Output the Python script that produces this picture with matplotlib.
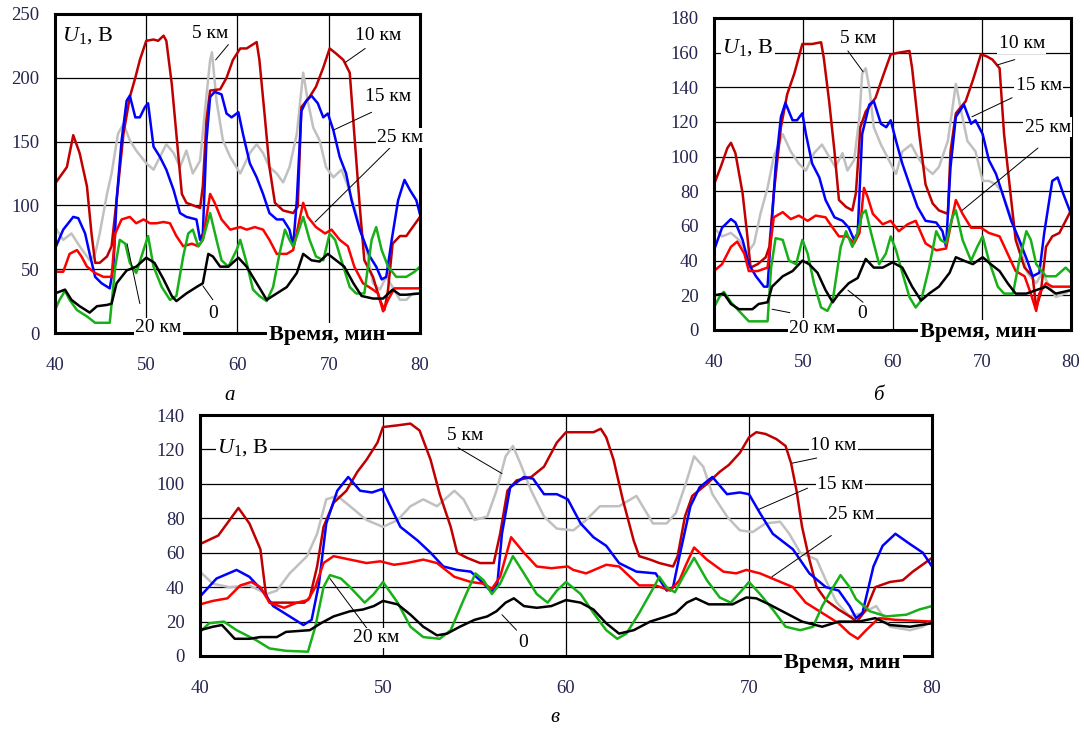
import matplotlib
matplotlib.use('Agg')
import matplotlib.pyplot as plt

plt.rcParams['font.family'] = ['Liberation Serif', 'DejaVu Serif']
plt.rcParams['mathtext.fontset'] = 'custom'
plt.rcParams['mathtext.rm'] = 'Liberation Serif'
plt.rcParams['mathtext.it'] = 'Liberation Serif:italic'

# =========================================================================
# values: (time, min ; U1, V)

# ---- panel a
a_5km = [(40, 83), (40.9, 73), (41.8, 78), (42.7, 68), (43.8, 57), (44.4, 62), (44.9, 78), (45.7, 109),
         (46.2, 125), (46.9, 156), (47.5, 164), (48.2, 151), (48.9, 143), (50.0, 133), (50.8, 128),
         (51.5, 138), (52.2, 148), (53.0, 141), (53.7, 130), (54.4, 143), (55.1, 125), (55.9, 135),
         (56.4, 172), (57.0, 214), (57.2, 220), (57.7, 182), (58.4, 151), (59.2, 138), (60.3, 125),
         (61.35, 141), (62.1, 148), (62.8, 141), (63.5, 130), (64.3, 125), (65.0, 118), (65.7, 130),
         (66.5, 156), (67.2, 204), (67.7, 182), (68.3, 161), (69.0, 151), (69.7, 130), (70.5, 122),
         (71.4, 128), (72.1, 115), (72.8, 99), (73.6, 78), (74.3, 60), (74.85, 39), (75.6, 34),
         (76.3, 44), (77.0, 36), (77.8, 26), (78.5, 26), (79.2, 31), (80, 31)]
a_10km = [(40, 117), (41.3, 130), (42.0, 155), (42.7, 141), (43.5, 115), (44.0, 78), (44.4, 55), (44.9, 55),
          (45.7, 60), (46.2, 68), (46.75, 104), (47.5, 156), (48.2, 185), (48.8, 200), (49.3, 214),
          (50.0, 229), (50.8, 230), (51.3, 229), (51.9, 233), (52.2, 229), (52.8, 195), (53.3, 156),
          (53.9, 109), (54.4, 102), (55.9, 98), (56.2, 115), (56.6, 167), (57.0, 190), (58.1, 191),
          (58.8, 200), (59.5, 214), (60.3, 223), (61.0, 223), (62.1, 228), (62.4, 214), (63.0, 169),
          (63.5, 130), (64.1, 102), (65.0, 96), (66.1, 94), (66.6, 99), (67.0, 177), (67.9, 185),
          (68.6, 193), (69.4, 208), (70.1, 223), (70.8, 219), (71.6, 214), (72.3, 204), (72.8, 156),
          (73.4, 99), (73.9, 57), (74.85, 44), (75.6, 26), (76.1, 18), (76.5, 34), (77.0, 70),
          (77.8, 76), (78.5, 76), (79.2, 83), (80, 91)]
a_15km = [(40, 66), (40.9, 81), (42.0, 91), (42.55, 90), (43.3, 78), (43.8, 62), (44.4, 44), (45.1, 39),
          (46.0, 35), (46.4, 52), (46.75, 104), (47.3, 151), (47.85, 182), (48.2, 186), (48.8, 169),
          (49.3, 169), (49.85, 177), (50.2, 180), (50.8, 146), (51.5, 138), (52.2, 128), (53.0, 112),
          (53.7, 94), (54.4, 91), (55.5, 89), (55.9, 73), (56.2, 78), (56.6, 151), (57.0, 185),
          (57.5, 189), (58.25, 187), (58.8, 172), (59.35, 169), (60.1, 173), (60.6, 156), (61.35, 133),
          (62.1, 122), (62.8, 109), (63.5, 94), (64.3, 89), (65.0, 89), (65.7, 81), (66.1, 68),
          (66.5, 104), (67.0, 174), (67.55, 182), (68.1, 186), (68.8, 180), (69.4, 169), (69.9, 172),
          (70.5, 159), (71.2, 138), (71.9, 125), (72.5, 104), (73.4, 81), (74.5, 60), (75.2, 52),
          (75.8, 42), (76.3, 44), (76.9, 73), (77.6, 104), (78.3, 120), (78.9, 112), (79.6, 104), (80, 93)]
a_25km = [(40, 48), (40.9, 48), (41.6, 62), (42.4, 65), (42.9, 60), (43.5, 52), (44.4, 47), (45.3, 44),
          (46.2, 44), (46.6, 78), (47.3, 89), (48.2, 91), (48.9, 86), (49.7, 89), (50.4, 86), (51.1, 86),
          (51.9, 87), (52.6, 86), (53.3, 76), (54.05, 68), (55.0, 70), (55.7, 68), (56.2, 73), (57.0, 109),
          (57.5, 102), (58.25, 89), (59.2, 81), (60.3, 83), (61.0, 81), (61.9, 83), (62.8, 81), (63.5, 73),
          (64.3, 62), (65.4, 62), (66.1, 65), (66.8, 89), (67.2, 102), (67.7, 91), (68.6, 83), (69.6, 78),
          (70.3, 81), (71.2, 73), (72.1, 68), (72.8, 52), (73.75, 39), (74.85, 34), (75.4, 31),
          (75.95, 17), (76.5, 26), (77.2, 35), (78.5, 35), (80, 35)]
a_20km = [(40, 18), (40.5, 26), (41.1, 33), (41.6, 26), (42.4, 18), (43.5, 13), (44.4, 8), (46.0, 8),
          (46.6, 52), (47.1, 73), (47.7, 70), (48.2, 55), (48.9, 47), (49.7, 65), (50.2, 76), (50.8, 52),
          (51.7, 36), (52.6, 26), (53.3, 29), (54.05, 60), (54.6, 78), (55.1, 81), (55.7, 68), (56.2, 73),
          (57.0, 94), (57.7, 73), (58.25, 57), (59.0, 52), (59.9, 65), (60.3, 73), (61.0, 55), (61.7, 34),
          (62.4, 29), (63.2, 25), (63.9, 36), (64.6, 62), (65.2, 81), (65.7, 73), (66.1, 68), (66.6, 78),
          (67.2, 91), (67.9, 73), (68.6, 60), (69.4, 57), (70.1, 78), (70.7, 73), (71.6, 52), (72.3, 36),
          (73.0, 31), (73.9, 31), (74.7, 73), (75.2, 83), (75.8, 65), (76.5, 52), (77.4, 44), (78.5, 44),
          (79.4, 48), (80, 52)]
a_0km = [(40, 31), (41.1, 34), (41.8, 26), (42.7, 21), (43.8, 16), (44.6, 21), (45.7, 22), (46.2, 23),
         (46.75, 39), (47.85, 49), (48.9, 52), (50.0, 59), (50.9, 55), (51.9, 42), (52.8, 29), (53.3, 25),
         (54.4, 31), (55.5, 36), (56.2, 39), (56.8, 62), (57.3, 60), (58.1, 52), (59.0, 52), (60.1, 59),
         (61.0, 52), (62.1, 39), (63.2, 26), (64.3, 31), (65.4, 36), (66.5, 47), (67.2, 62), (68.1, 57),
         (69.0, 56), (69.9, 62), (70.8, 57), (71.7, 52), (72.7, 39), (73.6, 29), (74.85, 27), (75.95, 27),
         (77.0, 34), (77.8, 30), (78.5, 30), (80, 31)]

# ---- panel б
b_5km = [(40, 59), (40.9, 54), (41.9, 56), (42.8, 52), (43.7, 44), (44.5, 50), (45.2, 67), (46.0, 82),
         (46.7, 100), (47.7, 113), (48.6, 103), (49.5, 96), (50.3, 92), (51.2, 102), (52.1, 107),
         (52.9, 100), (53.6, 94), (54.4, 102), (54.95, 92), (55.7, 98), (56.3, 123), (56.6, 148),
         (57.0, 151), (57.4, 140), (57.9, 117), (58.7, 107), (59.6, 98), (60.4, 90), (61.1, 103),
         (62.1, 107), (62.8, 100), (63.6, 94), (64.5, 90), (65.2, 94), (66.2, 109), (67.1, 142),
         (67.7, 126), (68.4, 109), (69.3, 103), (70.1, 86), (70.8, 86), (71.6, 84), (72.3, 79),
         (73.3, 65), (74.2, 50), (75.1, 33), (76.1, 27), (76.8, 33), (77.6, 25), (78.3, 19),
         (79.25, 21), (80, 23)]
b_10km = [(40, 84), (40.75, 94), (41.5, 105), (41.9, 108), (42.4, 102), (43.2, 79), (43.7, 56), (44.1, 36),
          (44.9, 38), (45.8, 42), (46.2, 48), (46.7, 79), (47.5, 117), (48.2, 136), (49.0, 148),
          (49.9, 165), (51.0, 165), (52.0, 166), (52.3, 157), (52.9, 132), (53.5, 103), (54.0, 75),
          (54.8, 71), (55.5, 69), (55.9, 79), (56.4, 117), (57.0, 126), (58.1, 134), (58.9, 146),
          (59.8, 159), (60.7, 160), (61.9, 161), (62.2, 151), (63.0, 113), (63.7, 84), (64.5, 73),
          (65.2, 69), (66.2, 67), (66.5, 103), (67.1, 125), (68.2, 132), (69.0, 144), (69.9, 159),
          (70.5, 158), (71.2, 156), (72.0, 151), (72.5, 113), (73.3, 75), (73.8, 52), (74.8, 36),
          (75.7, 31), (76.1, 13), (76.6, 21), (77.2, 48), (77.9, 54), (78.7, 56), (79.4, 63), (80, 69)]
b_15km = [(40, 46), (40.9, 59), (41.9, 64), (42.4, 62), (43.2, 52), (43.9, 38), (44.7, 31), (45.6, 25),
          (46.0, 25), (46.4, 56), (46.9, 94), (47.5, 123), (48.0, 131), (48.8, 121), (49.3, 121),
          (49.9, 125), (50.3, 113), (51.0, 96), (51.8, 88), (52.5, 75), (53.5, 65), (54.4, 63),
          (55.1, 59), (55.7, 52), (56.1, 56), (56.6, 113), (57.4, 130), (57.9, 132), (58.7, 119),
          (59.3, 117), (59.8, 121), (60.4, 109), (61.1, 96), (61.9, 84), (62.8, 71), (63.7, 63),
          (64.9, 62), (65.6, 57), (66.0, 48), (66.5, 94), (67.1, 123), (68.0, 130), (68.8, 119),
          (69.3, 121), (70.1, 113), (70.8, 98), (71.6, 90), (72.3, 79), (73.3, 63), (74.2, 52),
          (75.1, 40), (75.7, 31), (76.45, 33), (77.0, 56), (77.9, 86), (78.5, 88), (79.1, 79), (80, 67)]
b_25km = [(40, 34), (40.9, 38), (41.9, 48), (42.6, 51), (43.4, 44), (43.9, 34), (44.9, 34), (46.0, 36),
          (46.7, 65), (47.7, 68), (48.6, 64), (49.5, 66), (50.5, 63), (51.4, 66), (52.5, 65), (53.3, 59),
          (54.0, 54), (54.95, 54), (55.7, 50), (56.3, 56), (56.8, 82), (57.2, 77), (57.8, 67), (58.9, 61),
          (59.8, 63), (60.7, 57), (61.7, 61), (62.6, 63), (63.7, 50), (64.9, 46), (66.0, 47), (66.7, 65),
          (67.1, 75), (67.85, 67), (68.8, 59), (69.9, 59), (70.8, 56), (72.0, 54), (72.9, 44), (73.8, 34),
          (74.8, 31), (75.5, 21), (76.1, 11), (76.45, 21), (77.2, 27), (77.9, 25), (80, 25)]
b_20km = [(40, 13), (40.6, 19), (41.1, 22), (41.9, 16), (42.8, 11), (43.9, 5), (46.0, 5), (46.4, 36),
          (46.9, 53), (47.7, 52), (48.4, 40), (49.2, 38), (49.9, 52), (50.5, 44), (51.2, 27), (52.0, 13),
          (52.7, 11), (53.3, 17), (54.2, 48), (54.8, 57), (55.5, 48), (56.1, 56), (56.6, 67), (57.0, 69),
          (57.6, 56), (58.5, 38), (59.25, 44), (59.8, 54), (60.4, 46), (61.1, 33), (61.9, 19), (62.6, 13),
          (63.2, 17), (64.1, 36), (64.9, 57), (65.4, 52), (66.0, 50), (66.7, 65), (67.1, 69), (67.85, 52),
          (68.8, 40), (69.5, 48), (70.1, 54), (70.8, 40), (71.8, 25), (72.5, 21), (73.5, 21), (74.2, 40),
          (75.0, 57), (75.5, 52), (76.1, 38), (77.2, 31), (78.3, 31), (79.4, 36), (80, 33)]
b_0km = [(40, 20), (41.1, 21), (41.9, 15), (42.8, 12), (44.3, 12), (45.0, 15), (46.0, 16), (46.5, 25),
         (47.7, 31), (48.8, 34), (49.9, 40), (50.65, 38), (51.6, 33), (52.5, 23), (53.3, 16), (54.0, 21),
         (55.1, 27), (56.1, 30), (57.0, 41), (57.9, 36), (58.9, 36), (60.0, 39), (61.1, 36), (62.2, 25),
         (63.2, 17), (64.1, 21), (65.2, 25), (66.4, 33), (67.1, 42), (68.0, 40), (69.0, 38), (70.1, 42),
         (71.0, 38), (72.0, 34), (72.9, 27), (73.8, 21), (75.0, 21), (76.1, 23), (77.2, 25), (78.3, 21),
         (80, 23)]

# ---- panel в
c_5km = [(40, 49), (40.7, 42), (41.6, 40), (42.7, 41), (43.65, 36), (44.2, 38), (44.9, 48), (45.85, 58),
         (46.4, 71), (46.9, 91), (47.5, 93), (48.2, 87), (49.1, 79), (50.0, 75), (50.8, 79), (51.5, 87),
         (52.2, 91), (52.95, 87), (53.9, 96), (54.4, 91), (55.0, 79), (55.7, 81), (56.2, 96), (56.7, 116),
         (57.1, 122), (57.5, 112), (58.1, 96), (58.8, 81), (59.5, 74), (60.4, 73), (61.1, 79),
         (61.85, 87), (62.9, 87), (63.85, 93), (64.75, 77), (65.5, 77), (66.0, 83), (66.6, 102),
         (67.0, 116), (67.5, 110), (68.0, 94), (68.8, 81), (69.5, 73), (70.2, 72), (70.9, 77),
         (71.7, 78), (72.2, 71), (72.8, 60), (73.7, 56), (74.2, 44), (74.8, 31), (75.5, 23), (76.2, 25),
         (76.95, 29), (77.7, 17), (78.8, 15), (79.5, 17), (80, 21)]
c_10km = [(40, 65), (41, 70), (42.1, 86), (42.7, 77), (43.3, 62), (43.6, 36), (43.8, 31), (45.7, 31),
          (46.0, 34), (46.4, 52), (46.75, 75), (47.3, 89), (48.0, 96), (48.6, 107), (49.1, 114),
          (49.7, 124), (50.0, 133), (50.8, 134), (51.5, 135), (52.0, 131), (52.6, 114), (53.1, 94),
          (53.7, 75), (54.05, 60), (54.6, 57), (55.3, 54), (56.05, 54), (56.4, 71), (56.8, 96), (57.3, 102),
          (58.1, 104), (58.8, 110), (59.5, 124), (60.0, 130), (60.8, 130), (61.5, 130), (61.9, 132),
          (62.2, 127), (62.6, 114), (63.1, 91), (63.7, 67), (64.0, 58), (64.6, 56), (65.1, 54),
          (65.85, 52), (66.1, 58), (66.5, 81), (66.9, 93), (67.7, 100), (68.4, 107), (68.9, 111),
          (69.5, 118), (70.0, 127), (70.4, 130), (70.9, 129), (71.5, 126), (72.0, 122), (72.3, 112),
          (72.6, 96), (72.9, 75), (73.3, 56), (73.7, 40), (74.2, 32.5), (74.9, 27), (75.5, 23), (75.9, 20),
          (76.4, 27), (76.9, 40), (77.7, 43), (78.4, 44), (78.95, 49), (80, 57)]
c_15km = [(40, 34.5), (40.9, 45), (42.0, 50), (42.7, 46), (43.4, 38), (44.0, 29), (44.9, 23), (45.65, 18),
          (46.1, 21), (46.5, 42), (46.9, 77), (47.5, 96), (48.1, 104), (48.75, 96), (49.4, 95),
          (49.95, 97), (50.4, 87), (50.95, 75), (51.9, 67), (52.6, 60), (53.3, 52), (54.05, 50),
          (54.8, 49), (55.5, 42), (55.95, 37), (56.25, 42), (56.5, 71), (56.95, 98), (57.7, 104),
          (58.2, 103), (58.8, 94), (59.5, 94), (60.1, 91), (60.4, 85), (60.8, 77), (61.5, 69), (62.2, 64),
          (62.9, 54), (63.85, 49), (64.9, 48), (65.5, 38), (65.85, 40), (66.2, 58), (66.8, 87),
          (67.3, 98), (68.0, 104), (68.8, 94), (69.5, 95), (70.0, 94), (70.6, 83), (71.3, 71), (72.4, 62),
          (73.3, 48), (74.2, 40), (74.9, 38), (75.5, 29), (75.85, 22), (76.2, 25), (76.8, 52), (77.3, 64),
          (78.0, 71), (78.8, 65), (79.5, 60), (80, 52)]
c_25km = [(40, 30), (40.7, 32), (41.5, 33.5), (42.2, 41), (42.8, 43), (43.3, 40), (43.8, 31), (44.6, 28),
          (45.3, 31), (45.9, 32.5), (46.3, 40), (46.75, 54), (47.3, 58), (48.2, 56), (49.1, 54),
          (49.85, 55), (50.6, 53), (51.3, 54), (52.2, 56), (52.95, 54), (53.9, 46), (54.8, 43), (55.5, 42),
          (55.95, 39), (56.4, 46), (57.0, 69), (57.7, 60), (58.4, 52), (59.2, 51), (60.1, 52), (60.4, 50),
          (61.1, 48), (62.2, 53), (62.9, 52), (64.0, 41), (64.9, 41), (65.7, 38), (66.2, 44), (66.6, 54),
          (67.0, 63), (67.7, 56), (68.6, 49), (69.3, 48), (69.85, 50), (70.6, 48), (71.5, 44), (72.4, 40),
          (73.1, 31), (74.0, 25), (74.9, 19), (75.5, 13), (75.95, 10), (76.4, 15), (77.1, 22), (78.0, 21),
          (80, 20)]
c_20km = [(40, 14), (40.5, 19), (41.3, 20), (42.0, 15), (43.1, 9), (43.8, 4.4), (44.7, 3), (45.9, 2.5),
          (46.3, 17), (46.75, 40), (47.1, 47), (47.7, 45), (48.2, 40), (49.0, 31), (49.5, 36), (50.0, 43),
          (50.8, 31), (51.5, 17), (52.2, 11), (53.1, 10), (53.7, 15), (54.4, 32.5), (55.05, 48), (55.5, 44),
          (55.95, 36), (56.4, 42), (57.1, 58), (57.7, 48), (58.4, 36), (59.0, 31), (59.5, 38), (60.0, 43),
          (60.8, 36), (61.5, 25), (62.2, 15), (62.8, 10), (63.3, 13), (64.0, 25), (64.8, 40), (65.1, 46),
          (65.5, 40), (65.95, 37), (66.4, 46), (67.0, 57), (67.7, 44), (68.4, 34), (69.0, 31), (69.6, 38),
          (70.0, 43), (70.6, 36), (71.3, 27), (72.0, 17), (72.8, 15), (73.5, 17), (74.0, 29), (74.6, 40),
          (75.0, 47), (75.5, 40), (75.85, 33), (76.6, 26), (77.5, 23), (78.6, 24), (79.3, 27), (80, 29)]
c_0km = [(40, 15), (40.7, 17), (41.2, 18), (41.9, 10), (42.7, 10), (43.3, 11), (44.2, 11), (44.7, 14),
         (46.0, 15), (46.6, 19), (47.3, 23), (48.2, 26), (48.9, 27), (49.5, 29), (50.0, 32), (50.8, 30),
         (51.5, 24), (52.2, 17), (52.95, 12), (53.5, 13), (54.2, 17), (55.0, 21), (55.7, 23), (56.2, 26),
         (56.7, 31), (57.15, 33.5), (57.7, 29), (58.4, 28), (59.2, 29), (60.0, 32.5), (60.8, 31),
         (61.5, 27), (62.2, 19), (62.9, 13), (63.7, 15), (64.6, 20), (65.5, 23), (66.0, 25), (66.6, 31),
         (67.1, 33.5), (67.8, 30), (69.1, 30), (69.85, 34), (70.4, 33.5), (71.1, 30), (72.0, 25),
         (72.9, 20), (74.0, 17), (74.9, 20), (76.0, 20), (76.9, 22), (77.7, 18), (78.8, 17), (80, 19)]

series_names = ['5 км', '10 км', '15 км', '25 км', '20 км', '0']
series_colors = ['#c0c0c0', '#c00000', '#0000ff', '#ff0000', '#18b018', '#000000']

panel_a = [a_5km, a_10km, a_15km, a_25km, a_20km, a_0km]
panel_b = [b_5km, b_10km, b_15km, b_25km, b_20km, b_0km]
panel_c = [c_5km, c_10km, c_15km, c_25km, c_20km, c_0km]

# label placement per panel: name -> (text pos, leader start, leader end) in data units
labels_a = {'5 км': ((57.0, 235), (59.0, 226), (57.6, 214)),
            '10 км': ((75.4, 233), (74.0, 223), (71.8, 212)),
            '15 км': ((76.5, 185), (74.7, 173), (70.5, 159)),
            '25 км': ((77.8, 153), (76.7, 145), (68.5, 87)),
            '20 км': ((51.3, 4), (49.3, 23), (47.9, 70)),
            '0': ((57.3, 15), (57.3, 26), (56.2, 37))}
labels_b = {'5 км': ((56.1, 168), (55.0, 161), (56.7, 149)),
            '10 км': ((74.5, 165), (73.7, 156), (71.8, 153)),
            '15 км': ((76.4, 141), (73.4, 134), (68.9, 123)),
            '25 км': ((77.4, 117), (76.3, 105), (67.8, 69)),
            '20 км': ((51.0, 1), (48.5, 10), (46.5, 12)),
            '0': ((56.6, 9.5), (56.7, 16), (55.0, 23))}
labels_c = {'5 км': ((54.5, 128), (54.1, 121), (56.5, 106)),
            '10 км': ((74.6, 122.5), (73.7, 115), (72.35, 112)),
            '15 км': ((75.0, 99.5), (73.2, 97.5), (70.5, 85)),
            '25 км': ((75.6, 82), (74.5, 70), (71.25, 46)),
            '20 км': ((49.6, 10.5), (49.2, 15), (47.1, 45)),
            '0': ((57.65, 8), (57.3, 15), (56.5, 24))}

tick_color = '#252550'


def draw_panel(ax, data, ymax, ystep, labels, u_pos, time_pos):
    for pts, col in zip(data, series_colors):
        t, v = zip(*pts)
        ax.plot(t, v, color=col, lw=1.8, zorder=2)
    ax.set_xlim(40, 80)
    ax.set_ylim(0, ymax)
    ax.set_xticks([40, 50, 60, 70, 80])
    ax.set_yticks(list(range(0, ymax + 1, ystep)))
    ax.grid(True, color='black', lw=0.9, zorder=1)
    ax.set_axisbelow(True)
    ax.tick_params(axis='both', length=0, labelsize=13.5, labelcolor=tick_color)
    ax.tick_params(axis='x', pad=17)
    ax.tick_params(axis='y', pad=11)
    for sp in ax.spines.values():
        sp.set_linewidth(2.2)
        sp.set_zorder(3)
    box = dict(fc='white', ec='none', pad=1.0)
    for name, (tp, ls, le) in labels.items():
        ax.annotate('', xy=le, xytext=ls,
                    arrowprops=dict(arrowstyle='-', lw=0.7, color='black',
                                    shrinkA=0, shrinkB=0), zorder=4)
        ax.text(tp[0], tp[1], name, ha='center', va='center', fontsize=14,
                bbox=box, zorder=5, clip_on=False)
    ax.text(u_pos[0], u_pos[1], '$U_1$, В', ha='center', va='center', fontsize=16,
            bbox=box, zorder=5)
    ax.text(time_pos[0], time_pos[1], 'Время, мин', ha='center', va='center',
            fontsize=16, fontweight='bold', bbox=dict(fc='white', ec='none', pad=1.5),
            zorder=5, clip_on=False)


fig = plt.figure(figsize=(10.84, 7.29), dpi=100)
W, H = 1084, 729
ax_a = fig.add_axes([55 / W, 1 - 333 / H, 365 / W, 319 / H])
ax_b = fig.add_axes([714 / W, 1 - 330 / H, 357 / W, 312 / H])
ax_c = fig.add_axes([200 / W, 1 - 656 / H, 732 / W, 241 / H])

draw_panel(ax_a, panel_a, 250, 50, labels_a, (43.6, 233), (69.8, -1.5))
draw_panel(ax_b, panel_b, 180, 20, labels_b, (43.8, 163), (69.6, -1.2))
draw_panel(ax_c, panel_c, 140, 20, labels_c, (42.35, 121), (75.1, -4))

fig.text(230 / W, 1 - 395 / H, 'а', fontsize=15, style='italic', ha='center', va='center')
fig.text(878 / W, 1 - 395 / H, 'б', fontsize=15, style='italic', ha='center', va='center')
fig.text(555 / W, 1 - 718 / H, 'в', fontsize=15, style='italic', ha='center', va='center')

plt.savefig('out.png', dpi=100)
plt.close()
